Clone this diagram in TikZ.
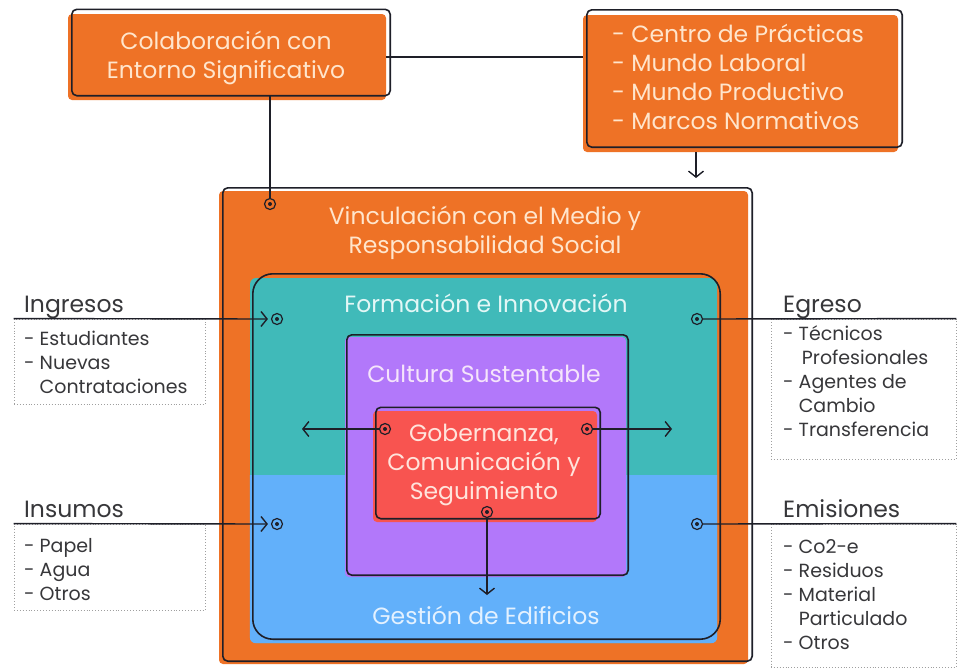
\documentclass[tikz,border=0pt]{standalone}
\usepackage{fontspec}
\setmainfont{Poppins}
\usetikzlibrary{arrows.meta}
\definecolor{orng}{RGB}{238,114,38}
\definecolor{teal1}{RGB}{64,186,185}
\definecolor{blu}{RGB}{98,176,250}
\definecolor{purp}{RGB}{178,120,250}
\definecolor{redb}{RGB}{248,84,80}
\definecolor{dk}{RGB}{30,31,40}
\definecolor{txtdk}{RGB}{55,55,58}
\definecolor{ltor}{RGB}{255,229,204}
\definecolor{lttl}{RGB}{227,247,246}
\definecolor{ltpu}{RGB}{245,228,251}
\definecolor{ltrd}{RGB}{255,228,220}
\definecolor{ltbl}{RGB}{227,241,255}
\begin{document}
\begin{tikzpicture}[x=1pt,y=-1pt,
  boxfill/.style={inner sep=0pt, rounded corners=4pt, draw=none},
  outl/.style={draw=dk, line width=1.6pt, rounded corners=5pt},
  bigtxt/.style={inner sep=0pt, align=center, font=\fontsize{23.5}{29}\selectfont},
  listtxt/.style={inner sep=0pt, align=left, anchor=north west, font=\fontsize{23.5}{29}\selectfont},
  lbl/.style={inner sep=0pt, anchor=base west, text=txtdk, font=\fontsize{23.5}{26}\selectfont},
  items/.style={inner sep=0pt, align=left, anchor=north west, text=txtdk, font=\fontsize{19}{24}\selectfont},
  dotbox/.style={draw=gray!75, dotted, line width=0.9pt, inner sep=0pt},
  con/.style={draw=dk, line width=1.4pt},
  arr/.style={-{Straight Barb[length=6pt,width=15pt]}},
  dot/.style={circle, draw=dk, line width=1.2pt, minimum size=11pt, inner sep=0pt,
    path picture={\fill[dk] (path picture bounding box.center) circle (2pt);}}
]
\useasboundingbox (0,0) rectangle (957,670);
\fill[white] (0,0) rectangle (957,670);

% outer orange box
\node[boxfill, fill=orng, minimum width=529pt, minimum height=473pt] (O) at (483.5,427.5) {};
\draw[outl] ([shift={(4pt,3pt)}]O.south west) rectangle ([shift={(4pt,3pt)}]O.north east);

% teal / blue box
\node[boxfill, fill=teal1, rounded corners=6pt, minimum width=467pt, minimum height=365pt] (T) at (483.5,460.5) {};
\coordinate (split) at (0,475);
\fill[blu] (T.west |- split) [rounded corners=6pt] -- (T.south west) -- (T.south east) [sharp corners] -- (T.east |- split) -- cycle;
\draw[outl, rounded corners=20pt] ([shift={(3pt,4pt)}]T.south west) rectangle ([shift={(3pt,4pt)}]T.north east);

% purple box
\node[boxfill, fill=purp, minimum width=281pt, minimum height=240pt] (P) at (485.5,457) {};
\draw[outl] ([shift={(2pt,2pt)}]P.south west) rectangle ([shift={(2pt,2pt)}]P.north east);

% red box
\node[boxfill, fill=redb, minimum width=224pt, minimum height=111pt] (R) at (485,466.5) {};
\draw[outl] ([shift={(3pt,3.5pt)}]R.south west) rectangle ([shift={(3pt,3.5pt)}]R.north east);

% top boxes
\node[boxfill, fill=orng, minimum width=318pt, minimum height=86pt] (A) at (227,57) {};
\draw[outl] ([shift={(4pt,4.5pt)}]A.south west) rectangle ([shift={(4pt,4.5pt)}]A.north east);
\node[boxfill, fill=orng, minimum width=315pt, minimum height=137pt] (B) at (740.5,83.5) {};
\draw[outl] ([shift={(4pt,5pt)}]B.south west) rectangle ([shift={(4pt,5pt)}]B.north east);

% texts in boxes
\node[bigtxt, text=ltor] (tA) at (226,58) {Colaboración con\\Entorno Significativo};
\node[listtxt, text=ltor] (tB) at (612,24) {- Centro de Prácticas\\- Mundo Laboral\\- Mundo Productivo\\- Marcos Normativos};
\node[bigtxt, text=ltor] (tO) at (485,233) {Vinculación con el Medio y\\Responsabilidad Social};
\node[bigtxt, text=lttl] (tT) at (486,303) {Formación e Innovación};
\node[bigtxt, text=ltpu] (tP) at (484,374) {Cultura Sustentable};
\node[bigtxt, text=ltrd] (tR) at (484,465) {Gobernanza,\\Comunicación y\\Seguimiento};
\node[bigtxt, text=ltbl] (tG) at (486,615) {Gestión de Edificios};

% side labels and lists
\node[lbl] (lIn) at (24,312) {Ingresos};
\node[dotbox, minimum width=191pt, minimum height=85pt] (bIn) at (109.5,361.5) {};
\node[items] (iIn) at (24,330.5) {- Estudiantes\\- Nuevas\\\phantom{- }Contrataciones};

\node[lbl] (lIs) at (24,517) {Insumos};
\node[dotbox, minimum width=191pt, minimum height=86pt] (bIs) at (109.5,567) {};
\node[items] (iIs) at (24,538.5) {- Papel\\- Agua\\- Otros};

\node[lbl] (lEg) at (783,312) {Egreso};
\node[dotbox, minimum width=185pt, minimum height=140pt] (bEg) at (863.5,389) {};
\node[items] (iEg) at (783,325) {- Técnicos\\\phantom{- }\,Profesionales\\- Agentes de\\\phantom{- }Cambio\\- Transferencia};

\node[lbl] (lEm) at (783,517) {Emisiones};
\node[dotbox, minimum width=185pt, minimum height=143pt] (bEm) at (863.5,595.5) {};
\node[items] (iEm) at (783,539.5) {- Co2-e\\- Residuos\\- Material\\\phantom{- }Particulado\\- Otros};

% dots
\node[dot] (dO) at (270,204) {};
\node[dot] (dIn) at (277,319) {};
\node[dot] (dIs) at (277,524) {};
\node[dot] (dEg) at (697,319) {};
\node[dot] (dEm) at (697,524) {};
\node[dot] (dRl) at (385,429) {};
\node[dot] (dRr) at (587,429) {};
\node[dot] (dRb) at (487,512) {};

% coordinates for free ends
\coordinate (Abot) at ([yshift=4.5pt]A.south);
\coordinate (aTop) at (696,178);
\coordinate (aL) at (302,429);
\coordinate (aR) at (672,429);
\coordinate (aB) at (487,595);

% connectors
\draw[con] (Abot -| dO) -- (dO.north);
\draw[con] (A.east) -- (B.west |- A.east);
\draw[con, arr] (B.south -| aTop) -- (aTop);
\draw[con, arr, shorten >=3pt] (bIn.north west) -- (dIn.west);
\draw[con, arr, shorten >=3pt] (bIs.north west) -- (dIs.west);
\draw[con] (dEg.east) -- (bEg.north east);
\draw[con] (dEm.east) -- (bEm.north east);
\draw[con, arr] (dRl.west) -- (aL);
\draw[con, arr] (dRr.east) -- (aR);
\draw[con, arr] (dRb.south) -- (aB);
\end{tikzpicture}
\end{document}
